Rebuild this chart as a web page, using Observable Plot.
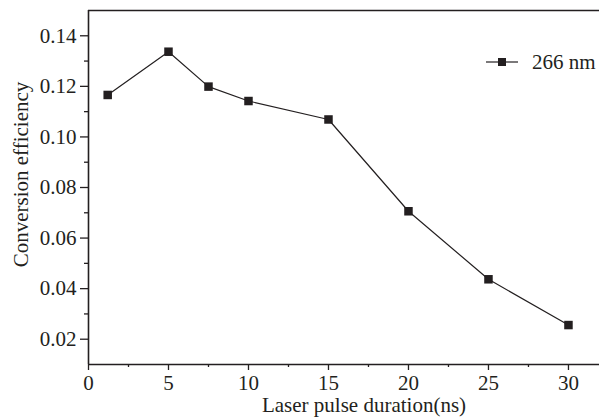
<!DOCTYPE html>
<html><head><meta charset="utf-8">
<script src="https://cdn.jsdelivr.net/npm/d3@7"></script>
<script src="https://cdn.jsdelivr.net/npm/@observablehq/plot@0.6"></script>
<style>
body{margin:0;background:#fff}
#wrap{position:relative;width:599px;height:419px}
.legend{position:absolute;left:486px;top:50px;height:24px;font-family:"Liberation Serif","Times New Roman",Times,"DejaVu Serif",serif;font-size:21px;color:#231f20;display:flex;align-items:center;white-space:nowrap}
.legend svg{margin-right:14px}
</style></head><body><div id="wrap"></div>
<script>
const durations = [1.2, 5, 7.5, 10, 15, 20, 25, 30];
const efficiency = [0.1166, 0.1337, 0.1199, 0.1142, 0.1069, 0.0706, 0.0437, 0.0256];
const seriesName = "266 nm";
const xLabel = "Laser pulse duration(ns)";
const yLabel = "Conversion efficiency";
const xMajor = [0, 5, 10, 15, 20, 25, 30];
const xMinor = [2.5, 7.5, 12.5, 17.5, 22.5, 27.5];
const yMajor = [0.02, 0.04, 0.06, 0.08, 0.10, 0.12, 0.14];
const yMinor = [0.03, 0.05, 0.07, 0.09, 0.11, 0.13];

const ink = "#231f20";
const serif = "'Liberation Serif', 'Times New Roman', Times, 'DejaVu Serif', serif";
const data = durations.map((d, i) => ({x: d, y: efficiency[i]}));

const chart = Plot.plot({
  width: 599, height: 419,
  marginLeft: 88, marginRight: 0, marginTop: 10, marginBottom: 55,
  x: {domain: [0, 31.94]},
  y: {domain: [0.01, 0.15]},
  style: {fontFamily: serif, fontSize: "21px", color: ink, background: "white", overflow: "visible"},
  marks: [
    Plot.axisX({ticks: xMajor, tickSize: 6, tickPadding: 5, tickFormat: d => String(d), label: null, fontSize: 21, fontFamily: serif, strokeWidth: 1.3}),
    Plot.axisX({ticks: xMinor, tickSize: 3, tickFormat: () => "", label: null, strokeWidth: 1.3}),
    Plot.axisY({ticks: yMajor, tickSize: 8, tickPadding: 4, tickFormat: d => d.toFixed(2), label: null, fontSize: 21, fontFamily: serif, strokeWidth: 1.3}),
    Plot.axisY({ticks: yMinor, tickSize: 4, tickFormat: () => "", label: null, strokeWidth: 1.3}),
    Plot.ruleY([0.01], {stroke: ink, strokeWidth: 1.6}),
    Plot.ruleY([0.15], {stroke: ink, strokeWidth: 1.6}),
    Plot.ruleX([0], {stroke: ink, strokeWidth: 1.6}),
    Plot.line(data, {x: "x", y: "y", stroke: ink, strokeWidth: 1.2}),
    Plot.dot(data, {x: "x", y: "y", symbol: "square", fill: ink, stroke: "none", r: 4.8}),
    Plot.text([xLabel], {frameAnchor: "bottom", textAnchor: "middle", dx: 20, dy: 41, lineAnchor: "middle", fontSize: 21, fontFamily: serif, fill: ink}),
    Plot.text([yLabel], {frameAnchor: "left", textAnchor: "middle", rotate: -90, dx: -67, dy: -13, lineAnchor: "middle", fontSize: 21, fontFamily: serif, fill: ink})
  ]
});
const wrap = document.getElementById("wrap");
wrap.appendChild(chart);

const legend = document.createElement("div");
legend.className = "legend";
legend.innerHTML = `<svg width="32" height="10"><line x1="0" x2="32" y1="5" y2="5" stroke="${ink}" stroke-width="1.2"/><rect x="12" y="1" width="8" height="8" fill="${ink}"/></svg><span></span>`;
legend.querySelector("span").textContent = seriesName;
wrap.appendChild(legend);
</script>
</body></html>
